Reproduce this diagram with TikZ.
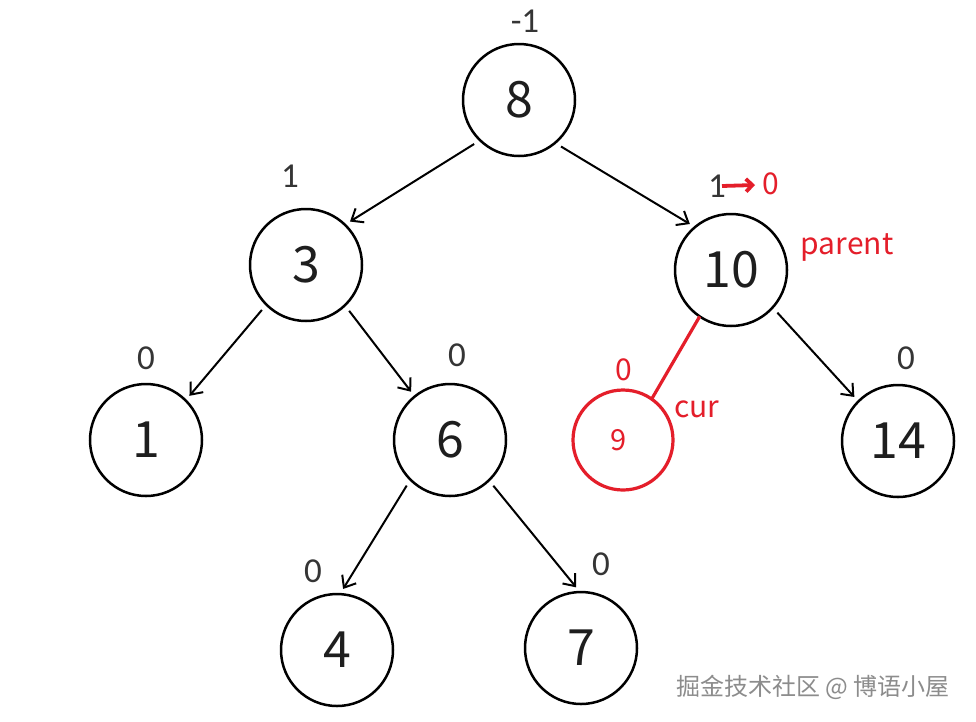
\documentclass[tikz,border=0pt]{standalone}
\usepackage{fontspec}
\setmainfont{Noto Sans CJK SC}
\newfontfamily\lblfont{Carlito}
\usetikzlibrary{arrows.meta}
\definecolor{myred}{RGB}{228,30,42}
\definecolor{ink}{RGB}{30,30,30}
\begin{document}
\begin{tikzpicture}[x=1pt,y=-1pt,
  tnode/.style={circle,draw=black,line width=2.5pt,minimum size=112pt,inner sep=0pt,outer sep=0pt,
    text=ink,font=\fontsize{50}{50}\selectfont},
  curnode/.style={circle,draw=myred,line width=3.2pt,minimum size=100pt,inner sep=0pt,outer sep=0pt,
    text=myred,font=\fontsize{29}{29}\selectfont},
  bf/.style={text=ink!90,font=\lblfont\fontsize{35}{35}\selectfont,inner sep=0pt},
  rl/.style={text=myred,font=\fontsize{30}{30}\selectfont,inner sep=0pt},
  treeedge/.style={line width=2pt,draw=black,-{Straight Barb[angle=78:13pt,line width=2pt]},
    shorten <=7pt,shorten >=6pt},
  curedge/.style={line width=3.2pt,draw=myred},
  redmark/.style={line width=3.8pt,draw=myred,-{Straight Barb[angle=90:9pt,line width=3.8pt]}},
  wm/.style={text=black!45,font=\fontsize{24}{24}\selectfont,inner sep=0pt}
]
\useasboundingbox (0,0) rectangle (976,721);
\fill[white] (0,0) rectangle (976,721);

% tree nodes
\node[tnode] (n8)  at (519,100) {8};
\node[tnode] (n3)  at (306,265) {3};
\node[tnode] (n10) at (731,270) {10};
\node[tnode] (n1)  at (146,440) {1};
\node[tnode] (n6)  at (450,440) {6};
\node[curnode] (n9) at (623,440) {\hspace*{-8pt}9};
\node[tnode] (n14) at (898,441) {14};
\node[tnode] (n4)  at (337,650) {4};
\node[tnode] (n7)  at (581,648) {7};

% balance factors
\node[bf] (b8)  at (525,21)  {-1};
\node[bf] (b3)  at (290,176) {1};
\node[bf] (b10) at (717,186) {1};
\node[bf] (b1)  at (146,358) {0};
\node[bf] (b6)  at (457,355) {0};
\node[bf] (b14) at (906,358) {0};
\node[bf] (b4)  at (313,571) {0};
\node[bf] (b7)  at (601,564) {0};

% red annotations
\node[rl] (r10) at (771,184) {0};
\node[rl] (par) at (847,247) {parent};
\node[rl] (r9)  at (624,370) {0};
\node[rl] (cur) at (697,409) {cur};

\coordinate (ma) at (722,186);
\coordinate (mb) at (755,185);
\draw[redmark] (ma) -- (mb);

% edges
\draw[treeedge] (n8.226)  -- (n3.46);
\draw[treeedge] (n8.310)  -- (n10.130);
\draw[treeedge] (n3.225)  -- (n1.45);
\draw[treeedge] (n3.314)  -- (n6.129);
\draw[treeedge] (n10.318) -- (n14.135);
\draw[treeedge] (n6.225)  -- (n4.87);
\draw[treeedge] (n6.314)  -- (n7.91);
\draw[curedge] (n10.236) -- (n9.55);

% watermark
\node[wm] (wmk) at (813,687) {掘金技术社区 @ 博语小屋};
\end{tikzpicture}
\end{document}
